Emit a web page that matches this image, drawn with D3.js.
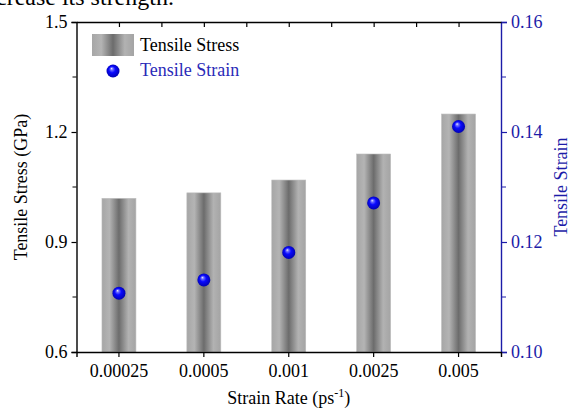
<!DOCTYPE html>
<html>
<head>
<meta charset="utf-8">
<script src="https://cdn.jsdelivr.net/npm/d3@7"></script>
<style>
  body { margin: 0; background: #fff; }
  svg { display: block; font-family: "Liberation Serif", "Times New Roman", serif; }
</style>
</head>
<body>
<div id="chart"></div>
<script>
(function() {
    const rates = ['0.00025', '0.0005', '0.001', '0.0025', '0.005'];
    const stress = [1.019, 1.034, 1.069, 1.140, 1.249];
    const strain = [0.1107, 0.1131, 0.1181, 0.1271, 0.1410];
    const stressTicks = [0.6, 0.9, 1.2, 1.5];
    const strainTicks = [0.10, 0.12, 0.14, 0.16];

    const W = 571, H = 409;
    const m = { left: 76.5, right: 501, top: 22, bottom: 352 };
    const axisBlue = '#1c1ca8';

    const svg = d3.select('#chart').append('svg').attr('width', W).attr('height', H);
    const defs = svg.append('defs');

    // bar fill: grey cylinder look
    const bg = defs.append('linearGradient').attr('id', 'barGrad').attr('x1', '0%').attr('x2', '100%');
    [['0%', '#a6a6a6'], ['22%', '#b4b4b4'], ['50%', '#6c6c6c'], ['78%', '#b2b2b2'], ['100%', '#a4a4a4']]
        .forEach(([o, c]) => bg.append('stop').attr('offset', o).attr('stop-color', c));

    const sg = defs.append('radialGradient').attr('id', 'ballGrad')
        .attr('cx', '50%').attr('cy', '50%').attr('r', '55%').attr('fx', '38%').attr('fy', '30%');
    [['0%', '#f0f0ff'], ['18%', '#6f6fff'], ['45%', '#0a0aff'], ['100%', '#0000a8']]
        .forEach(([o, c]) => sg.append('stop').attr('offset', o).attr('stop-color', c));

    // cut-off line of body text above the figure
    svg.append('text').attr('x', -4).attr('y', 5).style('font-size', '24px').text('crease its strength.');

    const x = d3.scaleBand().domain(rates).range([m.left, m.right]).paddingInner(0.6).paddingOuter(0.3);
    const y = d3.scaleLinear().domain([0.6, 1.5]).range([m.bottom, m.top]);
    const y2 = d3.scaleLinear().domain([0.10, 0.16]).range([m.bottom, m.top]);
    const xTop = d3.scaleLinear().domain([0, 10]).range([m.left, m.right]);

    // bars
    svg.append('g').selectAll('rect').data(rates).enter().append('rect')
        .attr('x', d => x(d)).attr('width', x.bandwidth())
        .attr('y', (d, i) => y(stress[i])).attr('height', (d, i) => y(0.6) - y(stress[i]))
        .attr('fill', 'url(#barGrad)').attr('stroke', '#bdbdbd').attr('stroke-width', 0.6);

    // strain balls
    svg.append('g').selectAll('circle').data(rates).enter().append('circle')
        .attr('cx', d => x(d) + x.bandwidth() / 2).attr('cy', (d, i) => y2(strain[i]))
        .attr('r', 6.5).attr('fill', 'url(#ballGrad)');

    // left axis
    const left = svg.append('g').attr('transform', `translate(${m.left},0)`)
        .call(d3.axisLeft(y).tickValues(stressTicks).tickFormat(d3.format('.1f')).tickSizeOuter(0).tickSize(5).tickPadding(4));
    left.append('g').selectAll('line').data([0.75, 1.05, 1.35]).enter().append('line')
        .attr('x1', 0).attr('x2', -4).attr('y1', d => y(d)).attr('y2', d => y(d)).attr('stroke', '#000');

    // right axis
    const right = svg.append('g').attr('transform', `translate(${m.right},0)`)
        .call(d3.axisRight(y2).tickValues(strainTicks).tickFormat(d3.format('.2f')).tickSizeOuter(0).tickSize(6).tickPadding(4));
    right.append('g').selectAll('line').data([0.11, 0.13, 0.15]).enter().append('line')
        .attr('x1', 0).attr('x2', 5).attr('y1', d => y2(d)).attr('y2', d => y2(d)).attr('stroke', axisBlue);
    right.selectAll('.domain, line').attr('stroke', axisBlue);
    right.selectAll('text').attr('fill', axisBlue);

    // bottom axis
    svg.append('g').attr('transform', `translate(0,${m.bottom})`)
        .call(d3.axisBottom(x).tickSizeOuter(0).tickSize(5).tickPadding(7));

    // top axis, ticks pointing inward
    svg.append('g').attr('transform', `translate(0,${m.top})`)
        .call(d3.axisBottom(xTop).tickValues(d3.range(1, 10)).tickSize(5).tickSizeOuter(0).tickFormat(''));

    svg.selectAll('.domain').attr('stroke-width', 1.4);
    svg.selectAll('.tick line').attr('stroke-width', 1.2);
    svg.selectAll('.tick text').style('font-family', '"Liberation Serif", serif').style('font-size', '18px');

    // axis titles
    svg.append('text').attr('transform', `translate(27,${(m.top + m.bottom) / 2}) rotate(-90)`)
        .attr('text-anchor', 'middle').style('font-size', '18px').text('Tensile Stress (GPa)');
    svg.append('text').attr('transform', `translate(567,${(m.top + m.bottom) / 2}) rotate(-90)`)
        .attr('text-anchor', 'middle').style('font-size', '18px').attr('fill', axisBlue).text('Tensile Strain');
    const xt = svg.append('text').attr('x', (m.left + m.right) / 2).attr('y', 404)
        .attr('text-anchor', 'middle').style('font-size', '18px');
    xt.append('tspan').text('Strain Rate (ps');
    xt.append('tspan').attr('dy', -7).style('font-size', '12px').text('-1');
    xt.append('tspan').attr('dy', 7).text(')');

    // legend
    const lg = svg.append('g');
    lg.append('rect').attr('x', 92).attr('y', 34).attr('width', 42).attr('height', 22).attr('fill', 'url(#barGrad)');
    lg.append('text').attr('x', 140).attr('y', 51).style('font-size', '18px').text('Tensile Stress');
    lg.append('circle').attr('cx', 113).attr('cy', 71).attr('r', 6.5).attr('fill', 'url(#ballGrad)');
    lg.append('text').attr('x', 140).attr('y', 76).style('font-size', '18px').attr('fill', '#2a2ab8').text('Tensile Strain');
})();
</script>
</body>
</html>
